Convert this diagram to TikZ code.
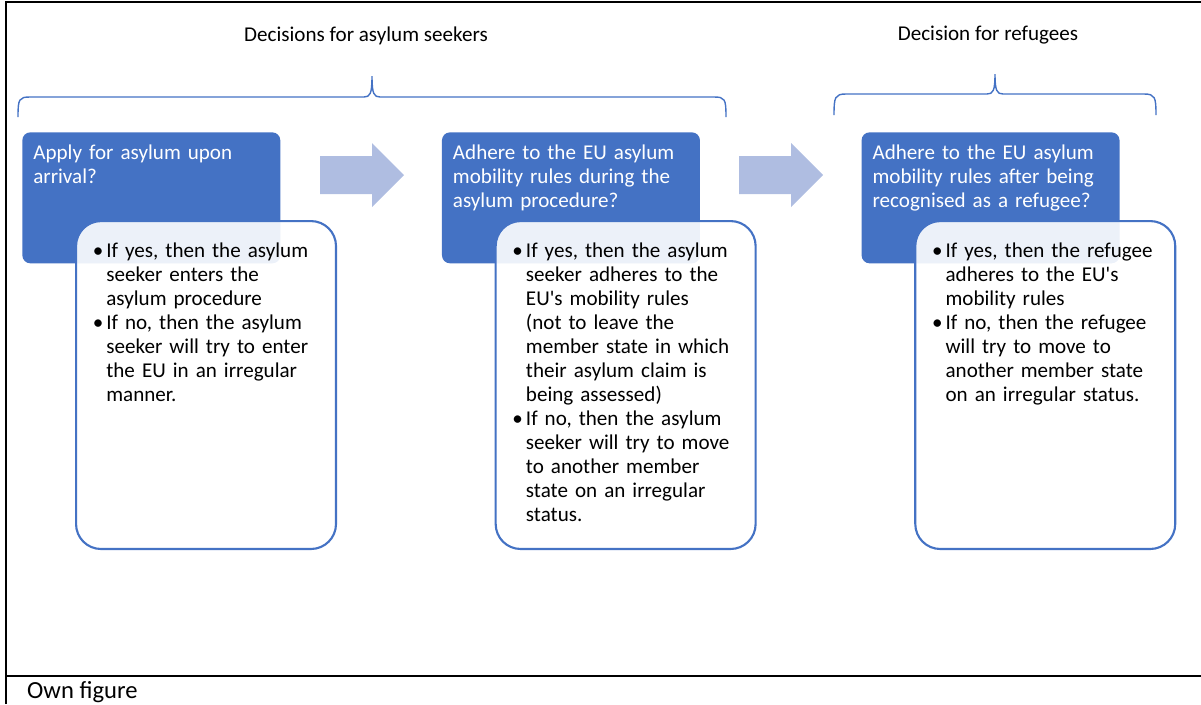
\documentclass[tikz,border=0pt]{standalone}
\usepackage{fontspec}
\setmainfont{Carlito}
\usetikzlibrary{positioning,calc}

\definecolor{accent}{RGB}{68,114,196}
\definecolor{chevron}{RGB}{175,189,225}
\newcommand{\bul}{\makebox[0.22cm][l]{\hspace{-0.05cm}\textbullet}}
\newcommand{\ind}{\hspace*{0.22cm}}

\begin{document}
\begin{tikzpicture}[x=0.02cm, y=-0.02cm, font=\fontsize{12}{13.66}\selectfont,
  qbox/.style={fill=accent, rounded corners=0.16cm, inner sep=0,
               minimum width=5.16cm, minimum height=2.62cm, anchor=north west},
  abox/.style={draw=accent, line width=1.2pt, fill=white, fill opacity=0.9,
               rounded corners=0.5cm, inner sep=0,
               minimum width=5.2cm, minimum height=6.56cm, anchor=north west},
  qtext/.style={text=white, text width=4.8cm, align=left, inner sep=0, anchor=base west},
  atext/.style={text width=4.8cm, align=left, inner sep=0, anchor=base west},
  brace/.style={draw=accent, line width=0.8pt},
  frame/.style={line width=1.2pt}]
  \useasboundingbox (0,0) rectangle (1201,704);

  % outer frame and caption row
  \draw[frame] (6,704) -- (6,2) -- (1201,2);
  \draw[frame] (6,676) -- (1201,676);
  \node[anchor=base west, font=\fontsize{14}{17}\selectfont] (src) at (21,698) {Own figure};

  % group titles and braces
  \node[anchor=base] (h1) at (366,41) {Decisions for asylum seekers};
  \node[anchor=base] (h2) at (988,40) {Decision for refugees};
  \draw[brace] (18,117) .. controls (18,99) and (19,97) .. (30,97) -- (364,97)
        .. controls (370,97) and (372,94) .. (372,76)
        .. controls (372,94) and (374,97) .. (380,97) -- (714,97)
        .. controls (725,97) and (726,99) .. (726,117);
  \draw[brace] (834,115) .. controls (834,97) and (835,94) .. (846,94) -- (987,94)
        .. controls (993,94) and (995,91) .. (995,74)
        .. controls (995,91) and (997,94) .. (1003,94) -- (1144,94)
        .. controls (1155,94) and (1156,97) .. (1156,115);

  % question boxes
  \node[qbox] (q1) at (22,132) {};
  \node[qbox, right=3.22cm of q1] (q2) {};
  \node[qbox, right=3.22cm of q2] (q3) {};
  \node[qtext] (t1) at ($(q1.north west)+(11,27)$) {Apply for asylum upon\\arrival?};
  \node[qtext] (t2) at ($(q2.north west)+(11,27)$) {Adhere to the EU asylum\\mobility rules during the\\asylum procedure?};
  \node[qtext] (t3) at ($(q3.north west)+(11,27)$) {Adhere to the EU asylum\\mobility rules after being\\recognised as a refugee?};

  % block arrows between the steps
  \fill[chevron] (320,156) -- (372,156) -- (372,143) -- (404,175) -- (372,207) -- (372,194) -- (320,194) -- cycle;
  \fill[chevron] (739,156) -- (791,156) -- (791,143) -- (823,175) -- (791,207) -- (791,194) -- (739,194) -- cycle;

  % answer boxes
  \node[abox] (a1) at ($(q1.north west)+(53,88)$) {};
  \node[abox] (a2) at ($(q2.north west)+(53,88)$) {};
  \node[abox] (a3) at ($(q3.north west)+(53,88)$) {};
  \node[atext] (l1) at ($(a1.north west)+(20,37)$)
        {\bul If yes, then the asylum\\ \ind seeker enters the\\ \ind asylum procedure\\
         \bul If no, then the asylum\\ \ind seeker will try to enter\\ \ind the EU in an irregular\\ \ind manner.};
  \node[atext] (l2) at ($(a2.north west)+(20,37)$)
        {\bul If yes, then the asylum\\ \ind seeker adheres to the\\ \ind EU\textquotesingle s mobility rules\\
         \ind (not to leave the\\ \ind member state in which\\ \ind their asylum claim is\\ \ind being assessed)\\
         \bul If no, then the asylum\\ \ind seeker will try to move\\ \ind to another member\\ \ind state on an irregular\\ \ind status.};
  \node[atext] (l3) at ($(a3.north west)+(20,37)$)
        {\bul If yes, then the refugee\\ \ind adheres to the EU\textquotesingle s\\ \ind mobility rules\\
         \bul If no, then the refugee\\ \ind will try to move to\\ \ind another member state\\ \ind on an irregular status.};
\end{tikzpicture}
\end{document}
